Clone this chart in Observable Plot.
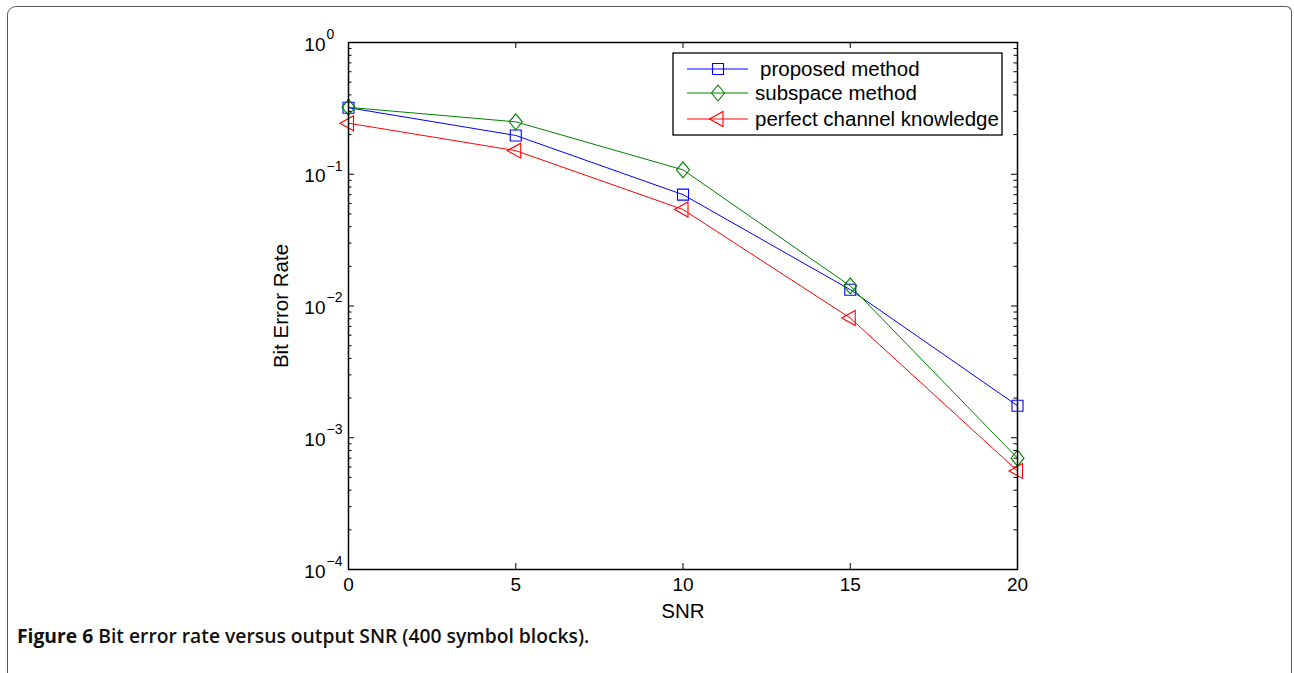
<!DOCTYPE html>
<html>
<head>
<meta charset="utf-8">
<script src="https://cdn.jsdelivr.net/npm/d3@7"></script>
<script src="https://cdn.jsdelivr.net/npm/@observablehq/plot@0.6"></script>
<style>
  html, body { margin: 0; padding: 0; background: #fff; width: 1294px; height: 673px; overflow: hidden; }
  #wrap { position: relative; width: 1294px; height: 673px; }
  #frame { position: absolute; left: 7px; top: 6px; width: 1283px; height: 720px; border: 1.5px solid #5a5a5a; border-bottom: none; border-top-left-radius: 9px; border-top-right-radius: 6px; }
  #chart { position: absolute; left: 0; top: 0; }
  #legend { position: absolute; left: 672px; top: 52px; }
  #caption { position: absolute; left: 17px; top: 622px; font-family: "Open Sans", sans-serif; font-size: 19.3px; font-weight: 600; color: #111; white-space: nowrap; }
  #caption b { font-weight: 700; }
</style>
</head>
<body>
<div id="wrap">
  <div id="frame"></div>
  <div id="chart"></div>
  <div id="legend"></div>
  <div id="caption"><b>Figure 6</b> Bit error rate versus output SNR (400 symbol blocks).</div>
</div>
<script>
// ---- data ----
const snr = [0, 5, 10, 15, 20];
const seriesNames = ["proposed method", "subspace method", "perfect channel knowledge"];
const proposed = [0.320, 0.197, 0.070, 0.0133, 0.00175];
const subspace = [0.322, 0.250, 0.108, 0.0142, 0.00070];
const perfect  = [0.244, 0.151, 0.054, 0.0081, 0.00056];
const xTicks = [0, 5, 10, 15, 20];
const yMajor = [1e-4, 1e-3, 1e-2, 1e-1, 1];
const yExponents = ["\u22124", "\u22123", "\u22122", "\u22121", "0"];
const colors = ["#0000ff", "#008000", "#ff0000"];

const yMinor = [];
for (let d = -4; d < 0; d++) for (let m = 2; m <= 9; m++) yMinor.push(m * Math.pow(10, d));

// ---- marker symbols ----
const squareSym = {draw(c) { c.moveTo(-5.5, -5.5); c.lineTo(5.5, -5.5); c.lineTo(5.5, 5.5); c.lineTo(-5.5, 5.5); c.closePath(); }};
const diamondSym = {draw(c) { c.moveTo(0, -8); c.lineTo(6.5, 0); c.lineTo(0, 8); c.lineTo(-6.5, 0); c.closePath(); }};
const triSym = {draw(c) { c.moveTo(-8.5, 0); c.lineTo(5, -7.5); c.lineTo(5, 7.5); c.closePath(); }};
const symbols = [squareSym, diamondSym, triSym];

const allValues = [proposed, subspace, perfect];
const rows = allValues.flatMap((vals, k) => snr.map((x, i) => ({x, y: vals[i], k})));

const W = 1294, H = 620;
const mL = 348, mR = 277, mT = 42, mB = 51;
const fw = W - mL - mR, fh = H - mT - mB;
const FONT = "'Liberation Sans', Arial, Helvetica, sans-serif";

const marks = [
  // tick labels
  Plot.axisX({ticks: xTicks, tickSize: 0, tickPadding: 8, tickFormat: d => String(d), fontSize: 19, label: null}),
  Plot.axisY({ticks: yMajor, tickSize: 0, tickPadding: 23, tickFormat: () => "10", fontSize: 19, dy: 2, label: null}),
  Plot.text(yMajor, {y: d => d, text: (d, i) => yExponents[i], frameAnchor: "left", dx: -22, dy: -8, textAnchor: "start", fontSize: 14}),
  // axis titles
  Plot.axisX({ticks: [], tickSize: 0, fontSize: 20.5, label: "SNR", labelAnchor: "center", labelOffset: 48, labelArrow: "none"}),
  Plot.axisY({ticks: [], tickSize: 0, fontSize: 20.5, label: "Bit Error Rate", labelAnchor: "center", labelOffset: 75, labelArrow: "none"}),
  // inward ticks: left / right major & minor
  Plot.tickY(yMajor, {y: d => d, insetRight: fw - 6, stroke: "black"}),
  Plot.tickY(yMajor, {y: d => d, insetLeft: fw - 6, stroke: "black"}),
  Plot.tickY(yMinor, {y: d => d, insetRight: fw - 3.5, stroke: "black"}),
  Plot.tickY(yMinor, {y: d => d, insetLeft: fw - 3.5, stroke: "black"}),
  // x ticks bottom / top
  Plot.tickX(xTicks, {x: d => d, insetTop: fh - 6, stroke: "black"}),
  Plot.tickX(xTicks, {x: d => d, insetBottom: fh - 6, stroke: "black"}),
];
allValues.forEach((vals, k) => {
  const data = rows.filter(r => r.k === k);
  marks.push(Plot.line(data, {x: "x", y: "y", stroke: colors[k], strokeWidth: 1}));
  marks.push(Plot.dot(data, {x: "x", y: "y", symbol: symbols[k], stroke: colors[k], fill: "none", strokeWidth: 1.1}));
});
marks.push(Plot.frame({stroke: "black", strokeWidth: 1.5}));

const chart = Plot.plot({
  width: W, height: H,
  marginLeft: mL, marginRight: mR, marginTop: mT, marginBottom: mB,
  x: {domain: [0, 20]},
  y: {type: "log", domain: [1e-4, 1]},
  style: {fontFamily: FONT, fontSize: "20.5px", color: "black", background: "transparent"},
  marks
});
document.getElementById("chart").appendChild(chart);

// ---- legend ----
const lw = 331, lh = 84;
const lsvg = d3.select("#legend").append("svg").attr("width", lw).attr("height", lh);
lsvg.append("rect").attr("x", 1).attr("y", 1).attr("width", lw - 2).attr("height", lh - 2)
  .attr("fill", "white").attr("stroke", "black").attr("stroke-width", 1.3);
const rowY = [17, 41, 67];
seriesNames.forEach((name, k) => {
  const g = lsvg.append("g").attr("transform", `translate(0,${rowY[k]})`);
  g.append("line").attr("x1", 15).attr("x2", 76).attr("y1", 0).attr("y2", 0).attr("stroke", colors[k]).attr("stroke-width", 1);
  const p = d3.path(); symbols[k].draw(p);
  g.append("path").attr("d", p.toString()).attr("transform", "translate(46,0)").attr("fill", "none").attr("stroke", colors[k]).attr("stroke-width", 1.1);
  g.append("text").attr("x", k === 0 ? 88 : 83).attr("y", 0).attr("dy", "0.35em")
    .attr("font-family", FONT).attr("font-size", 20.5).text(name);
});
</script>
</body>
</html>
